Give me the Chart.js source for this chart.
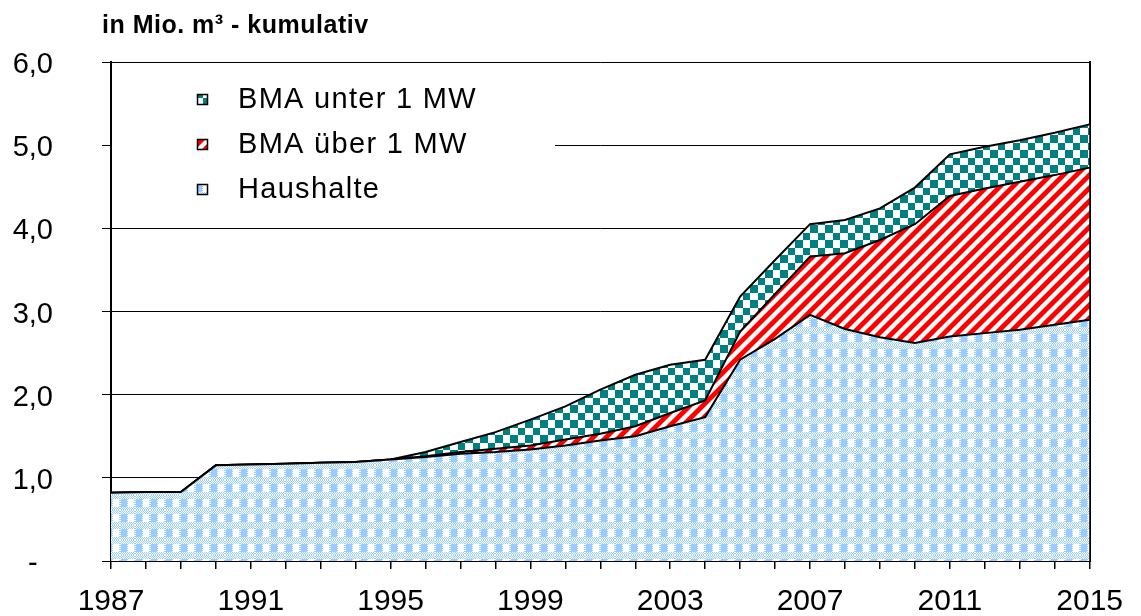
<!DOCTYPE html>
<html>
<head>
<meta charset="utf-8">
<script src="https://cdn.jsdelivr.net/npm/chart.js@4.4.1/dist/chart.umd.min.js"></script>
<style>
  html, body { margin: 0; padding: 0; background: #fff; }
  canvas { display: block; }
</style>
</head>
<body>
<canvas id="chart" width="1141" height="616"></canvas>
<script>
// Jahre (Kategorien der x-Achse)
const years = ['1987','1988','1989','1990','1991','1992','1993','1994','1995','1996',
               '1997','1998','1999','2000','2001','2002','2003','2004','2005','2006',
               '2007','2008','2009','2010','2011','2012','2013','2014','2015'];

// Werte in Mio. m³ (gestapelt zu kumulativen Summen)
const haushalte = [0.82,0.83,0.83,1.15,1.16,1.17,1.18,1.19,1.22,1.25,
                   1.29,1.31,1.34,1.39,1.45,1.50,1.62,1.73,2.42,2.67,
                   2.96,2.79,2.69,2.62,2.70,2.74,2.78,2.84,2.90];
const bmaUeber  = [0,0,0,0,0,0,0,0,0,0.01,
                   0.02,0.04,0.05,0.07,0.08,0.12,0.16,0.20,0.34,0.54,
                   0.70,0.91,1.17,1.43,1.69,1.74,1.78,1.80,1.83];
const bmaUnter  = [0,0,0,0,0,0,0,0,0,0.05,
                   0.12,0.20,0.31,0.40,0.53,0.62,0.58,0.49,0.42,0.41,
                   0.39,0.40,0.38,0.44,0.50,0.50,0.50,0.51,0.52];

const seriesLabels = ['Haushalte', 'BMA über 1 MW', 'BMA unter 1 MW'];
const yTickLabels = ['-', '1,0', '2,0', '3,0', '4,0', '5,0', '6,0'];
const xLabelStep = 4;
const titleText = 'in Mio. m³ - kumulativ';

const FONT = '"Liberation Sans", Arial, sans-serif';

// Pixel-Kacheln für die Musterfüllungen
function makeTile(size, painter) {
  const c = document.createElement('canvas');
  c.width = c.height = size;
  const g = c.getContext('2d');
  const img = g.createImageData(size, size);
  for (let y = 0; y < size; y++) {
    for (let x = 0; x < size; x++) {
      const [r, gg, b] = painter(x, y);
      const i = (y * size + x) * 4;
      img.data[i] = r; img.data[i + 1] = gg; img.data[i + 2] = b; img.data[i + 3] = 255;
    }
  }
  g.putImageData(img, 0, 0);
  return c;
}
const WHITE = [255, 255, 255];
const LIGHTBLUE = [153, 204, 255];
const TEAL = [0, 128, 128];
const RED = [255, 0, 0];
const PINK = [255, 140, 140];

const blueTile = makeTile(15, (x, y) => {
  if (y >= 4 && y < 12 && x >= 1 && x < 7) return LIGHTBLUE;
  if (y >= 4 && y < 12 && x >= 8 && x < 14) return WHITE;
  return (x + y) % 2 ? LIGHTBLUE : WHITE;
});
const tealTile = makeTile(15, (x, y) => ((x < 8) === (y < 8)) ? TEAL : WHITE);
const redTile = makeTile(13, (x, y) => {
  const d = (x + y) % 13;
  if (d < 6) return RED;
  if (d === 6 || d === 12) return PINK;
  return WHITE;
});

const canvas = document.getElementById('chart');
const ctx = canvas.getContext('2d');
const bluePattern = ctx.createPattern(blueTile, 'repeat');
const tealPattern = ctx.createPattern(tealTile, 'repeat');
const redPattern = ctx.createPattern(redTile, 'repeat');

// Titel oben links
const titlePlugin = {
  id: 'unitTitle',
  afterDraw(chart) {
    const c = chart.ctx;
    c.save();
    c.font = 'bold 25px ' + FONT;
    c.letterSpacing = '0.5px';
    c.fillStyle = '#000';
    c.textBaseline = 'alphabetic';
    c.textAlign = 'left';
    c.fillText(titleText, 102, 33);
    c.restore();
  }
};

// Legende innerhalb der Zeichenfläche mit weißem Hintergrund
const legendPlugin = {
  id: 'innerLegend',
  afterDraw(chart) {
    const c = chart.ctx;
    const area = chart.chartArea;
    c.save();
    c.fillStyle = '#fff';
    c.fillRect(area.left + 1, 70, 443, 145);
    const order = [2, 1, 0];
    c.font = '29px ' + FONT;
    c.letterSpacing = '1.3px';
    c.textBaseline = 'alphabetic';
    c.textAlign = 'left';
    order.forEach((di, row) => {
      const ds = chart.data.datasets[di];
      const base = 108 + row * 45;
      const bx = 197, by = base - 14;
      c.fillStyle = ds.backgroundColor;
      c.fillRect(bx, by, 11, 11);
      c.strokeStyle = '#000';
      c.lineWidth = 1.5;
      c.strokeRect(bx + 0.5, by + 0.5, 10, 10);
      c.fillStyle = '#000';
      c.fillText(ds.label, 238, base);
    });
    c.restore();
  }
};

const lineStyle = {
  borderColor: '#000',
  borderWidth: 2,
  pointRadius: 0,
  pointHoverRadius: 0,
  tension: 0
};

new Chart(ctx, {
  type: 'line',
  data: {
    labels: years,
    datasets: [
      Object.assign({ label: seriesLabels[0], data: haushalte, fill: 'origin', backgroundColor: bluePattern }, lineStyle),
      Object.assign({ label: seriesLabels[1], data: bmaUeber, fill: '-1', backgroundColor: redPattern }, lineStyle),
      Object.assign({ label: seriesLabels[2], data: bmaUnter, fill: '-1', backgroundColor: tealPattern }, lineStyle)
    ]
  },
  options: {
    responsive: false,
    animation: false,
    devicePixelRatio: 1,
    layout: { padding: { left: 12, right: 48, top: 62, bottom: 0 } },
    plugins: {
      legend: { display: false },
      title: { display: false },
      tooltip: { enabled: false }
    },
    scales: {
      x: {
        type: 'category',
        offset: false,
        grid: { drawOnChartArea: false, drawTicks: true, tickLength: 8, color: '#000', lineWidth: 1.5 },
        border: { display: true, color: '#000', width: 2 },
        ticks: {
          autoSkip: false,
          maxRotation: 0,
          minRotation: 0,
          padding: 18,
          color: '#000',
          font: { family: FONT, size: 30, lineHeight: 1.0 },
          callback: (v, i) => (i % xLabelStep === 0 ? years[i] : '')
        },
        afterFit: (s) => { s.height = 55; }
      },
      y: {
        stacked: true,
        min: 0,
        max: 6,
        grid: { color: '#000', lineWidth: 1, tickLength: 9, drawTicks: true },
        border: { display: true, color: '#000', width: 2 },
        ticks: {
          stepSize: 1,
          padding: 49,
          crossAlign: 'center',
          color: '#000',
          labelOffset: 3,
          font: { family: FONT, size: 29 },
          callback: (v) => yTickLabels[Math.round(v)]
        },
        afterFit: (s) => {
          s.width = 99;
          s.paddingTop = 0;
          s.paddingBottom = 0;
        }
      },
      yRight: {
        position: 'right',
        min: 0,
        max: 6,
        grid: { display: false, drawTicks: false },
        border: { display: true, color: '#000', width: 2 },
        ticks: { display: false, padding: 0 },
        afterFit: (s) => {
          s.width = 0;
          s.paddingTop = 0;
          s.paddingBottom = 0;
        }
      }
    }
  },
  plugins: [titlePlugin, legendPlugin]
});
</script>
</body>
</html>
